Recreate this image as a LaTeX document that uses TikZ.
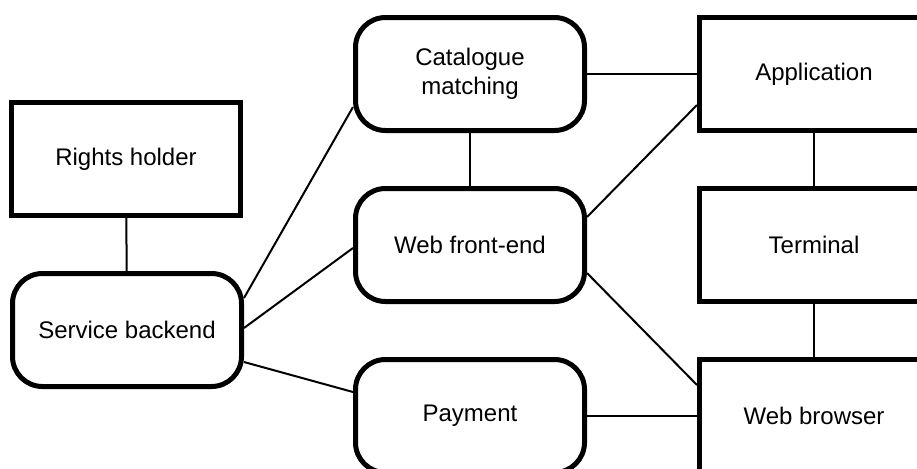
\documentclass[tikz,border=0pt]{standalone}
\usepackage{fontspec}
\setmainfont{Liberation Sans}

\tikzset{box_style/.style={draw, line width=2.5pt, minimum width=114.5pt, minimum height=56.5pt, inner sep=0pt, align=center, font=\fontsize{12}{14.5}\selectfont}}
\tikzset{round_style/.style={box_style, rounded corners=15pt}}

\begin{document}
\begin{tikzpicture}[x=0.5pt, y=-0.5pt, line width=1pt]
    \clip (0,0) rectangle (917,468);

    \node[box_style] (rh) at (126,159){Rights holder};
    \node[round_style] (sb) at (127,330){Service backend};
    \node[round_style] (cat) at (470,74){Catalogue\\matching};
    \node[round_style] (wfe) at (470,245){Web front-end};
    \node[round_style] (pay) at (470,416){Payment};
    \node[box_style] (app) at (814,74){Application};
    \node[box_style] (term) at (814,245){Terminal};
    \node[box_style] (wb) at (814,416){Web browser};

    \draw[] (rh) -- (sb);
    \draw[] ([yshift=16pt]sb.east) -- ([yshift=-16.5pt]cat.west);
    \draw[] ([yshift=1pt]sb.east) -- ([yshift=-1.5pt]wfe.west);
    \draw[] ([yshift=-16pt]sb.east) -- ([yshift=12pt]pay.west);
    \draw[] (cat) -- (wfe);
    \draw[] (cat) -- (app);
    \draw[] ([yshift=14pt]wfe.east) -- ([yshift=-15.5pt]app.west);
    \draw[] ([yshift=-14pt]wfe.east) -- ([yshift=15.5pt]wb.west);
    \draw[] (app) -- (term);
    \draw[] (term) -- (wb);
    \draw[] (pay) -- (wb);

\end{tikzpicture}
\end{document}
